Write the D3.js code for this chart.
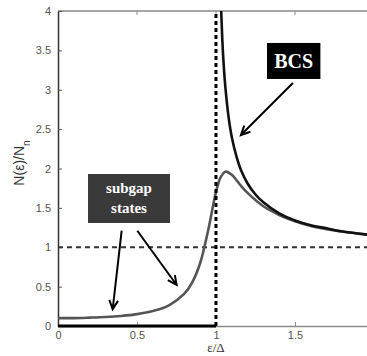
<!DOCTYPE html>
<html>
<head>
<meta charset="utf-8">
<script src="https://cdn.jsdelivr.net/npm/d3@7"></script>
<style>
  html, body { margin: 0; padding: 0; background: #fff; }
  svg { display: block; }
</style>
</head>
<body>
<svg id="chart" width="367" height="356"></svg>
<script>
// ---- data ----
const xTicks = [0, 0.5, 1, 1.5];
const xTickLabels = ["0", "0.5", "1", "1.5"];
const yTicks = [0, 0.5, 1, 1.5, 2, 2.5, 3, 3.5, 4];
const yTickLabels = ["0", "0.5", "1", "1.5", "2", "2.5", "3", "3.5", "4"];

// broadened (subgap) density of states, grey curve
const energyBroad = [0, 0.1, 0.2, 0.3, 0.4, 0.5, 0.6, 0.7, 0.8, 0.85, 0.9, 0.95, 1.0, 1.03, 1.06, 1.1, 1.15, 1.2, 1.3, 1.4, 1.5, 1.6, 1.7, 1.8, 1.96];
const dosBroad    = [0.10, 0.10, 0.106, 0.114, 0.128, 0.151, 0.19, 0.26, 0.41, 0.555, 0.80, 1.21, 1.70, 1.89, 1.96, 1.92, 1.80, 1.69, 1.52, 1.41, 1.33, 1.27, 1.23, 1.20, 1.16];

// BCS density of states, black curve (above the gap)
const energyBCS = [1.028, 1.04, 1.05, 1.06, 1.08, 1.1, 1.13, 1.16, 1.2, 1.25, 1.3, 1.4, 1.5, 1.6, 1.7, 1.8, 1.96];
const dosBCS    = [4.31, 3.64, 3.28, 3.02, 2.65, 2.40, 2.15, 1.97, 1.81, 1.67, 1.57, 1.43, 1.34, 1.28, 1.24, 1.20, 1.16];

// BCS zero inside the gap
const energyGap = [0, 1];
const dosGap = [0, 0];

// reference lines
const gapEdge = 1;     // vertical dashed line at ε/Δ = 1
const normalLevel = 1; // horizontal dashed line at N/Nn = 1

// annotation texts
const annoLabels = ["BCS", "subgap|states"];

(function () {
// ---- layout ----
const svg = d3.select("#chart");
const mLeft = 58, mRight = 367, mTop = 11, mBottom = 326;
const x = d3.scaleLinear().domain([0, 1.956]).range([mLeft, mRight]);
const y = d3.scaleLinear().domain([0, 4]).range([mBottom, mTop]);

svg.append("defs").append("clipPath").attr("id", "clip")
  .append("rect").attr("x", mLeft).attr("y", mTop).attr("width", mRight - mLeft).attr("height", mBottom - mTop + 4);

// top border line
svg.append("line").attr("x1", mLeft).attr("x2", mRight).attr("y1", mTop).attr("y2", mTop)
  .attr("stroke", "#8a8a8a").attr("stroke-width", 1.3);
// top ticks (inward)
svg.append("g").selectAll("line").data(xTicks.slice(1)).join("line")
  .attr("x1", d => x(d)).attr("x2", d => x(d)).attr("y1", mTop).attr("y2", mTop + 4)
  .attr("stroke", "#8a8a8a");

// bottom axis
const xAxis = d3.axisBottom(x).tickValues(xTicks).tickFormat((d, i) => xTickLabels[i]).tickSizeInner(-4).tickSizeOuter(0).tickPadding(5);
const gx = svg.append("g").attr("transform", `translate(0,${mBottom})`).call(xAxis);
gx.select(".domain").attr("stroke", "#8a8a8a").attr("stroke-width", 1.3);
gx.selectAll(".tick line").attr("stroke", "#8a8a8a");
gx.selectAll(".tick text").attr("fill", "#555").style("font-family", "Arial, 'Liberation Sans', sans-serif").style("font-size", "11px");

// left axis
const yAxis = d3.axisLeft(y).tickValues(yTicks).tickFormat((d, i) => yTickLabels[i]).tickSizeInner(-4).tickSizeOuter(0).tickPadding(7);
const gy = svg.append("g").attr("transform", `translate(${mLeft},0)`).call(yAxis);
gy.select(".domain").attr("stroke", "#333").attr("stroke-width", 1.5);
gy.selectAll(".tick line").attr("stroke", "#555");
gy.selectAll(".tick text").attr("fill", "#555").style("font-family", "Arial, 'Liberation Sans', sans-serif").style("font-size", "11px");

// plot layer
const plot = svg.append("g").attr("clip-path", "url(#clip)");

// horizontal dashed line at 1
plot.append("line").attr("x1", x(0)).attr("x2", mRight).attr("y1", y(normalLevel)).attr("y2", y(normalLevel))
  .attr("stroke", "#333").attr("stroke-width", 2).attr("stroke-dasharray", "5,4");

// broadened curve
const lineGen = d3.line().curve(d3.curveCatmullRom.alpha(0.5));
plot.append("path")
  .attr("d", lineGen(energyBroad.map((e, i) => [x(e), y(dosBroad[i])])))
  .attr("fill", "none").attr("stroke", "#555").attr("stroke-width", 2.6);

// BCS curve
plot.append("path")
  .attr("d", lineGen(energyBCS.map((e, i) => [x(e), y(dosBCS[i])])))
  .attr("fill", "none").attr("stroke", "#111").attr("stroke-width", 2.6);

// BCS zero in the gap
plot.append("path")
  .attr("d", d3.line()(energyGap.map((e, i) => [x(e), y(dosGap[i])])))
  .attr("fill", "none").attr("stroke", "#000").attr("stroke-width", 3);

// vertical dashed line at gap edge
svg.append("line").attr("x1", x(gapEdge)).attr("x2", x(gapEdge)).attr("y1", y(0)).attr("y2", y(4))
  .attr("stroke", "#000").attr("stroke-width", 3).attr("stroke-dasharray", "4,3");

// ---- annotations ----
function arrow(x1, y1, x2, y2) {
  const a = Math.atan2(y2 - y1, x2 - x1);
  const L = 10, w = 0.45;
  const p = d3.path();
  p.moveTo(x1, y1); p.lineTo(x2, y2);
  p.moveTo(x2 - L * Math.cos(a - w), y2 - L * Math.sin(a - w));
  p.lineTo(x2, y2);
  p.lineTo(x2 - L * Math.cos(a + w), y2 - L * Math.sin(a + w));
  svg.append("path").attr("d", p.toString()).attr("fill", "none")
    .attr("stroke", "#000").attr("stroke-width", 2).attr("stroke-linejoin", "miter");
}

// BCS box
const bcsBox = {e0: 1.323, e1: 1.661, v0: 3.594, v1: 3.137};
svg.append("rect").attr("x", x(bcsBox.e0)).attr("y", y(bcsBox.v0))
  .attr("width", x(bcsBox.e1) - x(bcsBox.e0)).attr("height", y(bcsBox.v1) - y(bcsBox.v0)).attr("fill", "#000");
svg.append("text").attr("x", (x(bcsBox.e0) + x(bcsBox.e1)) / 2).attr("y", (y(bcsBox.v0) + y(bcsBox.v1)) / 2 + 7)
  .attr("text-anchor", "middle").attr("fill", "#fff")
  .style("font-family", "'Liberation Serif', 'DejaVu Serif', serif").style("font-weight", "bold").style("font-size", "20px")
  .text(annoLabels[0]);
arrow(x(1.487), y(3.086), x(1.158), y(2.425));

// subgap box
const subBox = {e0: 0.19, e1: 0.709, v0: 1.93, v1: 1.308};
svg.append("rect").attr("x", x(subBox.e0)).attr("y", y(subBox.v0))
  .attr("width", x(subBox.e1) - x(subBox.e0)).attr("height", y(subBox.v1) - y(subBox.v0)).attr("fill", "#3a3a3a");
const subLines = annoLabels[1].split("|");
const st = svg.append("text").attr("text-anchor", "middle").attr("fill", "#fff")
  .style("font-family", "'Liberation Serif', 'DejaVu Serif', serif").style("font-weight", "bold").style("font-size", "15px");
subLines.forEach((t, i) => {
  st.append("tspan").attr("x", (x(subBox.e0) + x(subBox.e1)) / 2)
    .attr("y", y(subBox.v0) + 19 + i * 20).text(t);
});
arrow(x(0.403), y(1.21), x(0.346), y(0.212));
arrow(x(0.502), y(1.21), x(0.751), y(0.521));

// axis labels
svg.append("text").attr("transform", `translate(24,163) rotate(-90)`)
  .attr("text-anchor", "middle").attr("fill", "#333")
  .style("font-family", "Arial, 'Liberation Sans', sans-serif").style("font-size", "14px")
  .html('N(ε)/N<tspan baseline-shift="sub" font-size="10px">n</tspan>');
svg.append("text").attr("x", 216).attr("y", 352).attr("text-anchor", "middle").attr("fill", "#333")
  .style("font-family", "'Liberation Serif', 'DejaVu Serif', serif").style("font-size", "13px")
  .text("ε/Δ");
})();
</script>
</body>
</html>
